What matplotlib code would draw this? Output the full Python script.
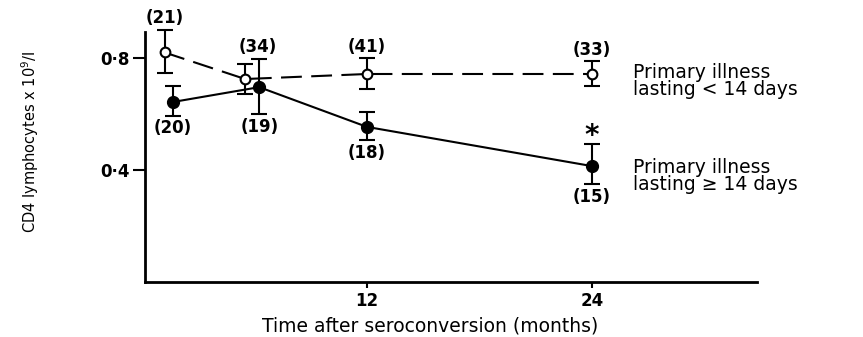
import matplotlib
matplotlib.use('Agg')
from matplotlib import pyplot as plt

# months after seroconversion, mean CD4 count and error bars
short_x = [1.2, 5.5, 12, 24]
short_y = [0.82, 0.725, 0.743, 0.743]
short_up = [0.08, 0.055, 0.057, 0.047]
short_dn = [0.074, 0.055, 0.053, 0.043]
short_n = ['(21)', '(34)', '(41)', '(33)']

long_x = [1.65, 6.25, 12, 24]
long_y = [0.643, 0.696, 0.554, 0.414]
long_up = [0.057, 0.10, 0.053, 0.079]
long_dn = [0.05, 0.096, 0.047, 0.064]
long_n = ['(20)', '(19)', '(18)', '(15)']

fig = plt.figure(figsize=(8.63, 3.37), dpi=100)
ax = fig.add_axes([145 / 863, 1 - 282 / 337, (757 - 145) / 863, (282 - 32) / 337])

eb1 = ax.errorbar(short_x, short_y, yerr=[short_dn, short_up], color='black', lw=1.5,
                  dashes=(10, 4.5), marker='o', ms=7, mfc='white', mec='black', mew=1.5,
                  ecolor='black', elinewidth=1.5, capsize=6, capthick=1.5, zorder=3)
eb2 = ax.errorbar(long_x, long_y, yerr=[long_dn, long_up], color='black', lw=1.5,
                  marker='o', ms=8.5, mfc='black', mec='black',
                  ecolor='black', elinewidth=1.5, capsize=6, capthick=1.5, zorder=4)
for eb in [eb1, eb2]:
    for art in eb.lines[1] + eb.lines[2]:
        art.set_clip_on(False)

bold = dict(fontsize=12, fontweight='bold', ha='center', va='center',
            annotation_clip=False)
# group sizes above / below the bars
up_off = [9, 12, 8, 8]
up_dx = [0, 9, 0, 0]
for i in range(4):
    ax.annotate(short_n[i], (short_x[i], short_y[i] + short_up[i]),
                xytext=(up_dx[i], up_off[i]), textcoords='offset points', **bold)
for i in range(4):
    ax.annotate(long_n[i], (long_x[i], long_y[i] - long_dn[i]),
                xytext=(0, -9), textcoords='offset points', **bold)
ax.annotate('*', (long_x[3], long_y[3] + long_up[3]), xytext=(0, 6),
            textcoords='offset points', fontsize=20, fontweight='bold',
            ha='center', va='center')

ax.set_xlim(0.16, 32.8)
ax.set_ylim(0.0, 0.893)
ax.set_xticks([12, 24])
ax.set_xticklabels(['12', '24'], fontsize=12, fontweight='bold')
ax.set_yticks([0.4, 0.8])
ax.set_yticklabels(['0·4', '0·8'], fontsize=12, fontweight='bold')
ax.tick_params(axis='y', length=9, width=1.5, pad=2)
ax.tick_params(axis='x', length=4, width=1.5, pad=3)
for s in ['top', 'right']:
    ax.spines[s].set_visible(False)
for s in ['left', 'bottom']:
    ax.spines[s].set_linewidth(2)

fig.text(430 / 863, 1 - 326 / 337, 'Time after seroconversion (months)',
         fontsize=13.5, ha='center', va='center')
fig.text(30 / 863, 1 - 142 / 337, 'CD4 lymphocytes x 10$^9$/l', rotation=90,
         fontsize=10.5, ha='center', va='center')

fig.text(633 / 863, 1 - 81 / 337, 'Primary illness\nlasting < 14 days',
         fontsize=13.5, ha='left', va='center', linespacing=0.92)
fig.text(633 / 863, 1 - 176 / 337, 'Primary illness\nlasting ≥ 14 days',
         fontsize=13.5, ha='left', va='center', linespacing=0.92)

fig.savefig('out.png', dpi=100)
